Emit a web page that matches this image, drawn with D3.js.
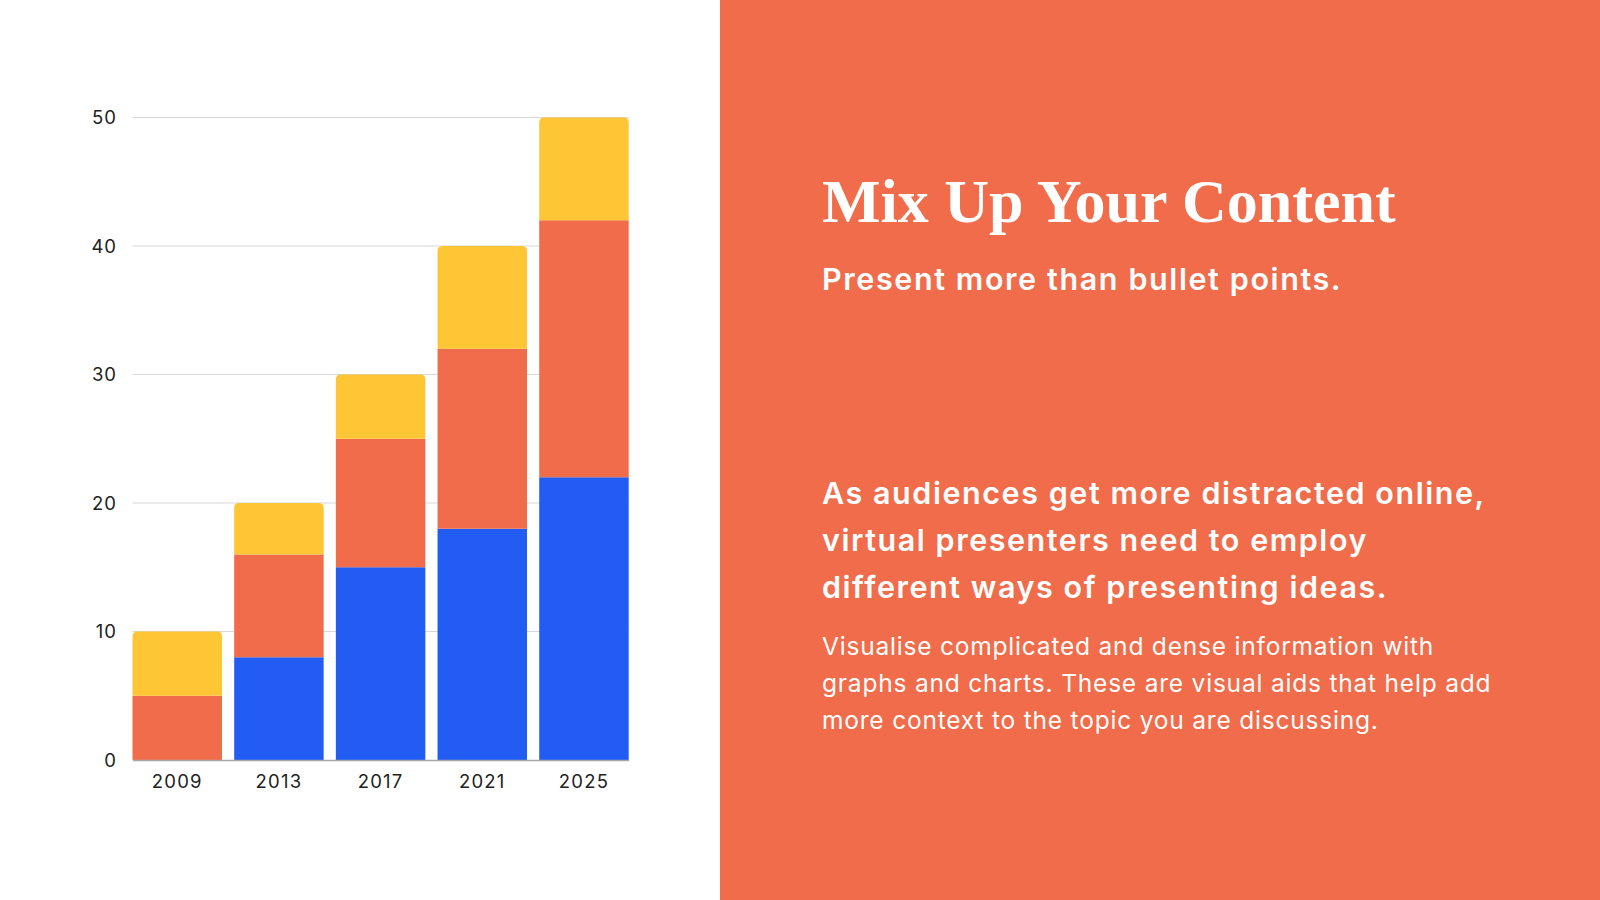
<!DOCTYPE html>
<html>
<head>
<meta charset="utf-8">
<script src="https://cdn.jsdelivr.net/npm/d3@7"></script>
<style>
  html, body { margin: 0; padding: 0; background: #ffffff; }
  svg { display: block; }
</style>
</head>
<body>
<svg id="chart" width="1600" height="900"></svg>
<script>
// ---- data ----
const years = ["2009", "2013", "2017", "2021", "2025"];
const seriesBlue   = [0, 8, 15, 18, 22];
const seriesOrange = [5, 8, 10, 14, 20];
const seriesYellow = [5, 4, 5, 8, 8];
const yTicks = [0, 10, 20, 30, 40, 50];
const seriesNames = ["blue", "orange", "yellow"];

const titleText = "Mix Up Your Content";
const subtitleText = "Present more than bullet points.";
const boldLines = [
  "As audiences get more distracted online,",
  "virtual presenters need to employ",
  "different ways of presenting ideas."
];
const bodyLines = [
  "Visualise complicated and dense information with",
  "graphs and charts. These are visual aids that help add",
  "more context to the topic you are discussing."
];

// ---- styling ----
const colors = { blue: "#225CF2", orange: "#F16C4A", yellow: "#FEC634" };
const panelColor = "#F16C4A";
const sansFont = "Inter, 'DejaVu Sans', sans-serif";

const svg = d3.select("#chart");

// right panel
svg.append("rect").attr("x", 720).attr("y", 0).attr("width", 880).attr("height", 900)
  .attr("fill", panelColor);

// ---- chart ----
const rows = years.map((y, i) => ({ year: y, blue: seriesBlue[i], orange: seriesOrange[i], yellow: seriesYellow[i] }));
const stack = d3.stack().keys(seriesNames);
const stacked = stack(rows);

const x = d3.scaleBand().domain(years).range([132.5, 628.7]).paddingInner(0.12).paddingOuter(0);
const y = d3.scaleLinear().domain([0, 50]).range([760, 117.5]);

const g = svg.append("g");

// gridlines
g.append("g").selectAll("line").data(yTicks.filter(d => d !== 0)).join("line")
  .attr("x1", x.range()[0]).attr("x2", x.range()[1])
  .attr("y1", d => y(d)).attr("y2", d => y(d))
  .attr("stroke", "#D8D8D8").attr("stroke-width", 1.2);

// y axis labels
const yAxis = d3.axisLeft(y).tickValues(yTicks).tickSize(0).tickPadding(0);
const yg = g.append("g").attr("transform", `translate(117,0)`).call(yAxis);
yg.select(".domain").remove();
yg.selectAll("text").attr("font-family", sansFont).attr("font-size", 18.5)
  .attr("letter-spacing", 1).attr("fill", "#222").attr("text-anchor", "end").attr("dy", "0.35em");

// bars
function topIndex(i) {
  let top = -1;
  stacked.forEach((s, k) => { if (s[i][1] - s[i][0] > 0) top = k; });
  return top;
}
const r = 5;
stacked.forEach((s, k) => {
  g.append("g").selectAll("path").data(s.map((d, i) => ({ d, i }))).join("path")
    .attr("fill", colors[s.key])
    .attr("d", ({ d, i }) => {
      if (d[1] - d[0] <= 0) return "";
      const x0 = x(years[i]), x1 = x0 + x.bandwidth();
      const yTop = y(d[1]), yBot = y(d[0]);
      if (topIndex(i) === k) {
        return `M${x0},${yBot} L${x0},${yTop + r} Q${x0},${yTop} ${x0 + r},${yTop} ` +
               `L${x1 - r},${yTop} Q${x1},${yTop} ${x1},${yTop + r} L${x1},${yBot} Z`;
      }
      return `M${x0},${yBot} L${x0},${yTop} L${x1},${yTop} L${x1},${yBot} Z`;
    });
});

// x axis
const xAxis = d3.axisBottom(x).tickSize(0).tickPadding(0);
const xg = g.append("g").attr("transform", `translate(0,${y(0)})`).call(xAxis);
xg.select(".domain").attr("stroke", "#A8A8A8").attr("stroke-width", 1.5);
xg.selectAll("text").attr("font-family", sansFont).attr("font-size", 18.5)
  .attr("letter-spacing", 1.2).attr("fill", "#222").attr("dy", null).attr("y", 28);

// ---- text panel ----
const tx = 822;
svg.append("text").attr("x", tx).attr("y", 222)
  .attr("font-family", "'Liberation Serif', 'DejaVu Serif', serif")
  .attr("font-weight", "bold").attr("font-size", 62).attr("fill", "#fff")
  .text(titleText);

svg.append("text").attr("x", tx).attr("y", 290)
  .attr("font-family", sansFont).attr("font-weight", 600).attr("font-size", 30.5)
  .attr("letter-spacing", 1.6).attr("fill", "#fff").text(subtitleText);

svg.append("g").selectAll("text").data(boldLines).join("text")
  .attr("x", tx).attr("y", (d, i) => 504 + i * 46.9)
  .attr("font-family", sansFont).attr("font-weight", 600).attr("font-size", 30.5)
  .attr("letter-spacing", 1.55).attr("fill", "#fff").text(d => d);

svg.append("g").selectAll("text").data(bodyLines).join("text")
  .attr("x", tx).attr("y", (d, i) => 655 + i * 36.8)
  .attr("font-family", sansFont).attr("font-weight", 400).attr("font-size", 24.5)
  .attr("letter-spacing", 0.8).attr("fill", "#fff").text(d => d);
</script>
</body>
</html>
